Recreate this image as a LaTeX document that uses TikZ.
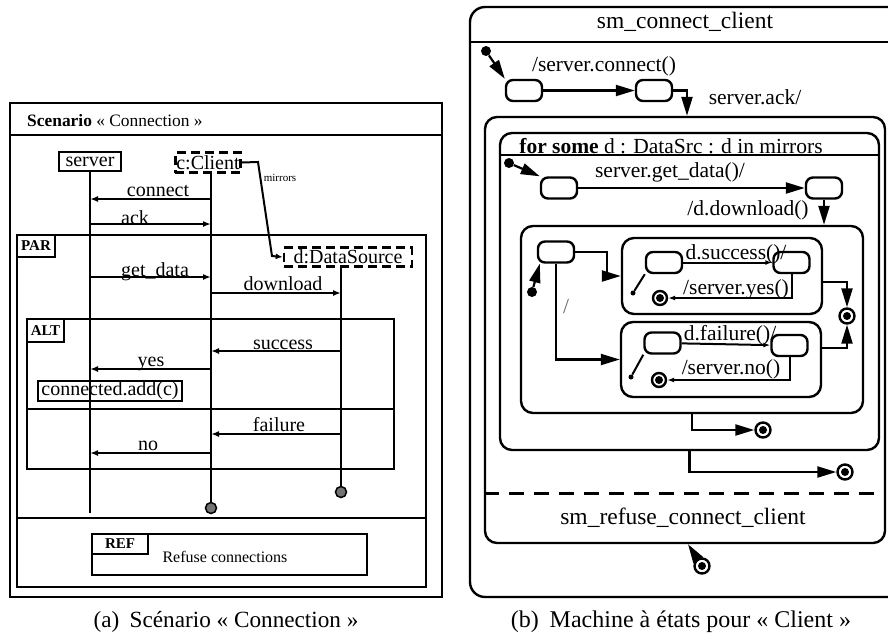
\documentclass[tikz,border=0pt]{standalone}
\usepackage{fontspec}
\setmainfont{Liberation Serif}
\usetikzlibrary{arrows.meta}
\begin{document}
\begin{tikzpicture}[x=1pt,y=-1pt,
 frm/.style={line width=1.8pt},
 msg/.style={line width=2.6pt,-{Latex[length=8pt,width=6pt]}},
 life/.style={line width=1.8pt},
 mlab/.style={font=\fontsize{20}{24}\selectfont, inner sep=0pt, anchor=base},
 tagtxt/.style={font=\fontsize{15}{17}\selectfont\bfseries, inner sep=0pt},
 lbox/.style={draw, line width=2pt, font=\fontsize{20}{24}\selectfont, inner sep=1pt},
 dbox/.style={lbox, line width=2.6pt, dash pattern=on 9pt off 5pt},
 endc/.style={circle, draw, line width=1.5pt, fill=black!55, minimum size=11pt, inner sep=0pt},
 stbox/.style={draw, rounded corners=7pt, line width=2.4pt, minimum width=36pt, minimum height=21pt, inner sep=0pt},
 compbox/.style={draw, rounded corners=12pt, line width=2.4pt, inner sep=0pt},
 trans/.style={line width=2.2pt, -{Triangle[length=19pt,width=11pt]}},
 transs/.style={line width=2pt, -{Latex[length=7pt,width=5pt]}},
 initdot/.style={circle, fill, minimum size=10pt, inner sep=0pt},
 initsm/.style={circle, fill, minimum size=5pt, inner sep=0pt},
 finst/.style={circle, draw, line width=2.4pt, minimum size=14pt, inner sep=0pt, path picture={\fill (path picture bounding box.center) circle (4pt);}},
 slab/.style={font=\fontsize{21.5}{26}\selectfont, inner sep=0pt},
 big/.style={font=\fontsize{23.5}{28}\selectfont, inner sep=0pt},
]
\useasboundingbox (0,0) rectangle (888,638);

% ================= (a) Sequence diagram =================
\draw[frm] (10,103) rectangle (442,597);
\draw[frm] (10,135) -- (442,135);
\node[anchor=base west, font=\fontsize{17.4}{20}\selectfont, inner sep=0pt] (sctitle) at (27,126) {\textbf{Scenario} « Connection »};

\coordinate (sv) at (90,0);
\coordinate (cl) at (211,0);
\coordinate (ds) at (341,0);

\node[lbox, minimum width=62pt, minimum height=19pt] (server) at (90,161.5) {server};
\node[dbox, minimum width=62pt, minimum height=20pt] (client) at (208,162.5) {c:Client};
\node[dbox, minimum width=128pt, minimum height=19pt] (dsrc) at (348,257) {d:DataSource};

\node[endc] (cend) at (211,508) {};
\node[endc] (dend) at (341,492) {};
\draw[life] (server.south) -- (sv |- 0,513);
\draw[life] (client.south -| cl) -- (cend);
\draw[life] (dsrc.south -| ds) -- (dend);

\draw[line width=2pt, -{Latex[length=7pt,width=6pt]}] (client.east) -- (258,162) -- (272,256) -- (dsrc.west);
\node[font=\fontsize{11}{12}\selectfont, inner sep=0pt] (mir) at (280,178) {mirrors};

% PAR
\draw[frm] (17,235) rectangle (426,587);
\draw[frm] (17,518) -- (426,518);
\draw[frm] (17,235) rectangle (55,257);
\node[tagtxt] (par) at (36,246) {PAR};
% ALT
\draw[frm] (27,319) rectangle (394,469);
\draw[frm] (27,409) -- (394,409);
\draw[frm] (27,319) rectangle (64,342);
\node[tagtxt] (alt) at (45.5,330.5) {ALT};
% REF
\draw[frm] (92,534) rectangle (367,575);
\draw[frm] (92,534) rectangle (148,554);
\node[tagtxt] (ref) at (120,544) {REF};
\node[font=\fontsize{16}{19}\selectfont, inner sep=0pt] (refusec) at (225,557) {Refuse connections};

% messages
\draw[msg] (cl |- 0,199) -- (sv |- 0,199);
\node[mlab] (lconnect) at (158,196) {connect};
\draw[msg] (sv |- 0,224) -- (cl |- 0,224);
\node[mlab] (lack) at (135,224) {ack};
\draw[msg] (sv |- 0,277) -- (cl |- 0,277);
\node[mlab] (lget) at (155,276) {get\_data};
\draw[msg] (cl |- 0,293) -- (ds |- 0,293);
\node[mlab] (ldown) at (283,290) {download};
\draw[msg] (ds |- 0,351) -- (cl |- 0,351);
\node[mlab] (lsucc) at (283,349) {success};
\draw[msg] (cl |- 0,369) -- (sv |- 0,369);
\node[mlab] (lyes) at (151,366) {yes};
\node[lbox, minimum width=144pt, minimum height=20pt] (cadd) at (110,391) {connected.add(c)};
\draw[msg] (ds |- 0,434) -- (cl |- 0,434);
\node[mlab] (lfail) at (279,431) {failure};
\draw[msg] (cl |- 0,453) -- (sv |- 0,453);
\node[mlab] (lno) at (148,450) {no};

\node[font=\fontsize{23.2}{28}\selectfont, inner sep=0pt] (capa) at (226,622) {(a)\hspace{0.45em}Scénario « Connection »};

% ================= (b) State machine =================
\draw[line width=2.4pt, rounded corners=15pt] (888,7) -- (470,7) -- (470,597) -- (888,597);
\draw[line width=2.4pt] (470,42) -- (888,42);
\node[big] (smtitle) at (685,22) {sm\_connect\_client};

\node[initdot] (i0) at (486,51) {};
\node[stbox] (s1) at (524,90.5) {};
\node[stbox] (s2) at (654,90.5) {};
\draw[trans] (i0) -- (s1.north west);
\draw[trans] (s1) -- (s2);
\node[slab] (ls1) at (604,66) {/server.connect()};

\node[compbox, minimum width=400pt, minimum height=426pt] (L1) at (685,330) {};
\draw[trans] (s2.east) -| (687,0 |- L1.north);
\node[slab] (lack2) at (755,97) {server.ack/};

\node[compbox, minimum width=379pt, minimum height=317pt] (L2) at (689.5,291.5) {};
\draw[line width=2.4pt] (L2.west |- 0,155) -- (L2.east |- 0,155);
\node[slab, anchor=base] (forsome) at (671,153) {\textbf{for some} d : DataSrc : d in mirrors};

\node[initdot] (iA) at (509,163) {};
\node[stbox] (sA) at (559,188) {};
\node[stbox] (sB) at (824,188) {};
\draw[trans] (iA) -- (sA.north west);
\draw[trans] (sA) -- (sB);
\node[slab] (lsA) at (670,172) {server.get\_data()/};

\node[compbox, minimum width=342pt, minimum height=187pt] (L3) at (692,319.5) {};
\draw[trans] (sB.south) -- (sB.south |- L3.north);
\node[slab] (lsB) at (748,210) {/d.download()};

\node[initdot] (iC) at (532,292) {};
\node[stbox] (sC) at (556,252) {};
\draw[trans] (iC) -- ([xshift=3pt]sC.south west);

\node[compbox, minimum width=200pt, minimum height=76pt] (sub1) at (722,276) {};
\node[compbox, minimum width=200pt, minimum height=75pt] (sub2) at (721,359.5) {};
\draw[trans] (sC.east) -- (607,252) |- (sub1.west);
\draw[trans] (sC.south) |- (sub2.west);
\node[slab, text=black!60] (lslash) at (566,307) {/};

% success region
\node[initsm] (iD) at (633,293) {};
\node[stbox] (sD) at (664,262.5) {};
\node[stbox] (sE) at (791.5,262.5) {};
\node[finst] (fD) at (660,298) {};
\draw[line width=2pt] (iD) -- (sD.south west);
\draw[transs] (sD) -- (sE);
\draw[transs] (sE.south) |- (fD.east);
\node[slab, anchor=base] (lsD) at (736,259) {d.success()/};
\node[slab, anchor=base] (lsE) at (736,294) {/server.yes()};

% failure region
\node[initsm] (iF) at (631,377) {};
\node[stbox] (sF) at (662.5,343) {};
\node[stbox] (sG) at (789.5,345.5) {};
\node[finst] (fF) at (659,380) {};
\draw[line width=2pt] (iF) -- (sF.south west);
\draw[transs] (sF) -- (sG);
\draw[transs] (sG.south) |- (fF.east);
\node[slab, anchor=base] (lsF) at (730,340) {d.failure()/};
\node[slab, anchor=base] (lsG) at (731,374) {/server.no()};

% join
\node[finst, minimum size=15pt] (fJ) at (847,316) {};
\draw[trans] (sub1.east |- 0,282) -| (fJ.north);
\draw[trans] (sub2.east |- 0,348) -| (fJ.south);

\node[finst, minimum size=15pt] (fL3) at (763,430) {};
\draw[trans] (L3.south) |- (fL3.west);
\node[finst, minimum size=15pt] (fL2) at (845,472) {};
\draw[trans] (L2.south) |- (fL2.west);

\draw[line width=3pt, dash pattern=on 15pt off 10pt] (L1.west |- 0,493) -- (L1.east |- 0,493);
\node[big] (refuse) at (683,518) {sm\_refuse\_connect\_client};

\node[finst, minimum size=15pt] (fEnd) at (702,566) {};
\draw[trans] (fEnd) -- ([xshift=3pt]L1.south);

\node[font=\fontsize{24}{28}\selectfont, inner sep=0pt] (capb) at (681,622) {(b)\hspace{0.45em}Machine à états pour « Client »};
\end{tikzpicture}
\end{document}
